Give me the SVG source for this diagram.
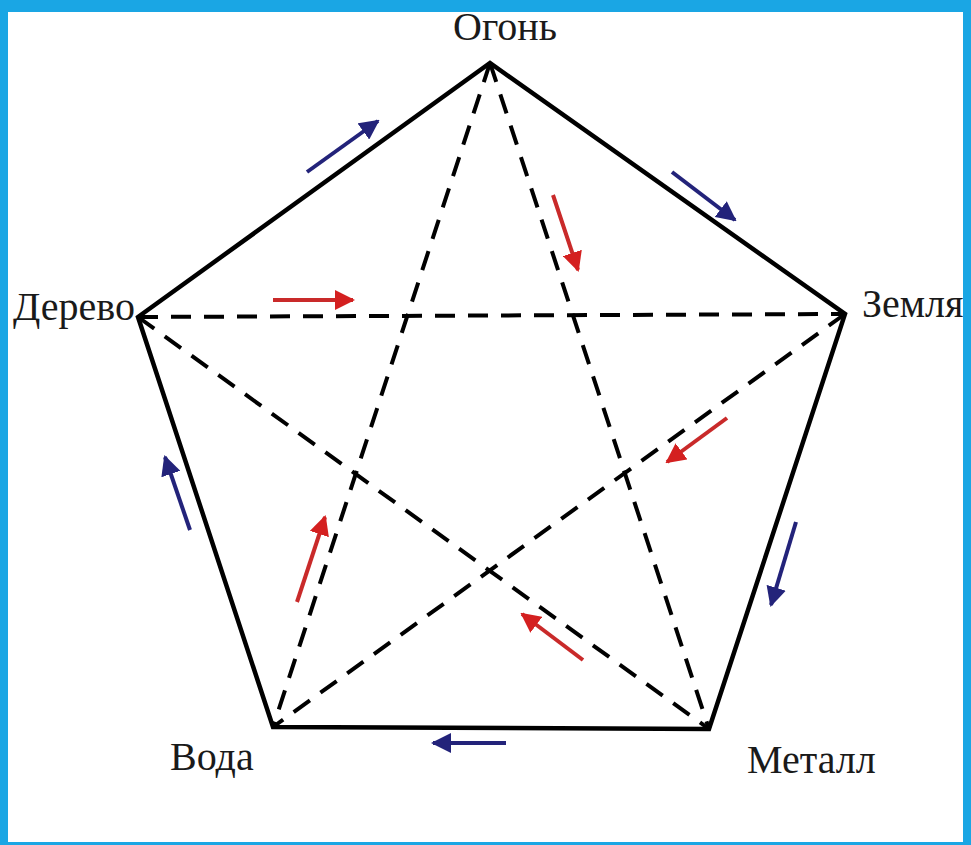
<svg xmlns="http://www.w3.org/2000/svg" width="971" height="845" viewBox="0 0 971 845">
<defs>
<style>
.lbl{font-family:"Liberation Serif","Times New Roman",serif;font-size:40px;fill:#1a1a1a}
.solid{stroke:#000;stroke-width:4.5;fill:none;stroke-linejoin:miter}
.dash{stroke:#000;stroke-width:4;fill:none;stroke-dasharray:20 13}
.blue{stroke:#23237a;stroke-width:4;fill:none;marker-end:url(#hb)}
.red{stroke:#c92a2a;stroke-width:4;fill:none;marker-end:url(#hr)}
</style>
<marker id="hb" viewBox="0 0 10 10" refX="9" refY="5" markerWidth="5" markerHeight="5" orient="auto" markerUnits="strokeWidth"><path d="M0,0 L10,5 L0,10 z" fill="#23237a"/></marker>
<marker id="hr" viewBox="0 0 10 10" refX="9" refY="5" markerWidth="5" markerHeight="5" orient="auto" markerUnits="strokeWidth"><path d="M0,0 L10,5 L0,10 z" fill="#d42020"/></marker>
</defs>
<rect x="0" y="0" width="971" height="845" fill="#1aa6e4"/>
<rect x="8" y="12" width="955" height="830" fill="#ffffff"/>
<g id="connectors">
<path class="solid" d="M138,317 L490,63 L845,314 L709,729 L273,727 Z"/>
<line class="dash" x1="138" y1="317" x2="845" y2="314"/>
<line class="dash" x1="490" y1="63" x2="273" y2="727"/>
<line class="dash" x1="490" y1="63" x2="709" y2="729"/>
<line class="dash" x1="138" y1="317" x2="709" y2="729"/>
<line class="dash" x1="845" y1="314" x2="273" y2="727"/>
<line class="blue" x1="307" y1="172" x2="378" y2="121"/>
<line class="blue" x1="672" y1="172" x2="735" y2="220"/>
<line class="blue" x1="796" y1="522" x2="771" y2="605"/>
<line class="blue" x1="506" y1="743" x2="433" y2="743"/>
<line class="blue" x1="190" y1="530" x2="165" y2="457"/>
<line class="red" x1="273" y1="300" x2="353" y2="300"/>
<line class="red" x1="553" y1="195" x2="578" y2="270"/>
<line class="red" x1="727" y1="418" x2="667" y2="462"/>
<line class="red" x1="583" y1="660" x2="522" y2="614"/>
<line class="red" x1="297" y1="602" x2="325" y2="517"/>
</g>
<g id="fire"><text class="lbl" x="505" y="40" text-anchor="middle">Огонь</text></g>
<g id="wood"><text class="lbl" x="13" y="320">Дерево</text></g>
<g id="earth"><text class="lbl" x="862" y="317">Земля</text></g>
<g id="water"><text class="lbl" x="170" y="770">Вода</text></g>
<g id="metal"><text class="lbl" x="747" y="773">Металл</text></g>
<rect x="963" y="0" width="8" height="845" fill="#1aa6e4"/>
</svg>
